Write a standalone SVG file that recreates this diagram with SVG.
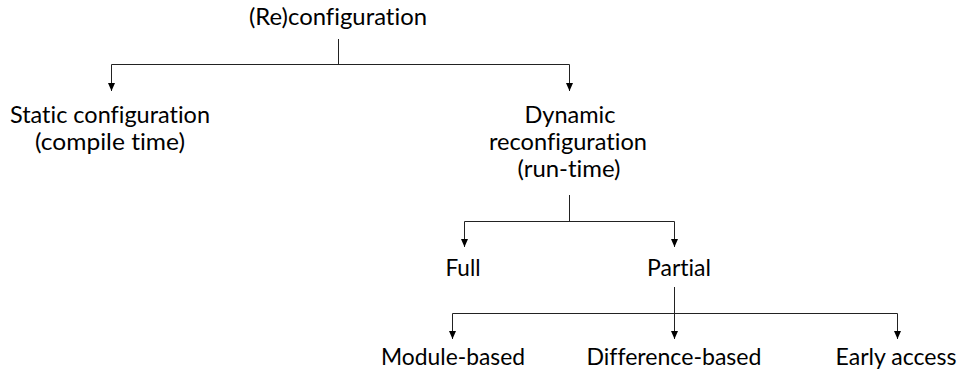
<svg xmlns="http://www.w3.org/2000/svg" width="960" height="376" viewBox="0 0 960 376">
  <style>
    .lbl { font-family: Lato, "Open Sans", "Liberation Sans", sans-serif; font-size: 22.5px; fill: #000; text-anchor: middle; font-variant-ligatures: none; font-feature-settings: "liga" 0, "clig" 0; }
    .wire { fill: none; stroke: #222; stroke-width: 1; }
  </style>
  <defs>
    <marker id="tip" viewBox="0 0 8 8" refX="8" refY="4" markerWidth="8" markerHeight="8" markerUnits="userSpaceOnUse" orient="auto">
      <path d="M0,0.5 L8,4 L0,7.5 z" fill="#000"/>
    </marker>
  </defs>
  <rect width="960" height="376" fill="#fff"/>

  <g id="connectors">
    <!-- (Re)configuration split -->
    <path class="wire" d="M338.5,39 V64.5"/>
    <path class="wire" d="M111.5,64.5 H569.5"/>
    <path class="wire" d="M111.5,64.5 V91" marker-end="url(#tip)"/>
    <path class="wire" d="M569.5,64.5 V91" marker-end="url(#tip)"/>
    <!-- Dynamic split -->
    <path class="wire" d="M569.5,195 V221.5"/>
    <path class="wire" d="M464.5,221.5 H674.5"/>
    <path class="wire" d="M464.5,221.5 V247" marker-end="url(#tip)"/>
    <path class="wire" d="M674.5,221.5 V247" marker-end="url(#tip)"/>
    <!-- Partial split -->
    <path class="wire" d="M452.5,313.5 H897.5"/>
    <path class="wire" d="M674.5,287 V339" marker-end="url(#tip)"/>
    <path class="wire" d="M452.5,313.5 V339" marker-end="url(#tip)"/>
    <path class="wire" d="M897.5,313.5 V339" marker-end="url(#tip)"/>
  </g>

  <g id="reconfiguration">
    <text class="lbl" x="338" y="25" textLength="178" lengthAdjust="spacingAndGlyphs">(Re)configuration</text>
  </g>
  <g id="static">
    <text class="lbl" x="110" y="123" textLength="200" lengthAdjust="spacingAndGlyphs">Static configuration</text>
    <text class="lbl" x="110" y="150" textLength="150" lengthAdjust="spacingAndGlyphs">(compile time)</text>
  </g>
  <g id="dynamic">
    <text class="lbl" x="570" y="123" textLength="91" lengthAdjust="spacingAndGlyphs">Dynamic</text>
    <text class="lbl" x="568" y="150" textLength="158" lengthAdjust="spacingAndGlyphs">reconfiguration</text>
    <text class="lbl" x="569" y="177" textLength="103" lengthAdjust="spacingAndGlyphs">(run-time)</text>
  </g>
  <g id="full">
    <text class="lbl" x="463" y="276" textLength="35" lengthAdjust="spacingAndGlyphs">Full</text>
  </g>
  <g id="partial">
    <text class="lbl" x="679" y="276" textLength="64" lengthAdjust="spacingAndGlyphs">Partial</text>
  </g>
  <g id="module-based">
    <text class="lbl" x="453" y="365" textLength="144" lengthAdjust="spacingAndGlyphs">Module-based</text>
  </g>
  <g id="difference-based">
    <text class="lbl" x="674" y="365" textLength="175" lengthAdjust="spacingAndGlyphs">Difference-based</text>
  </g>
  <g id="early-access">
    <text class="lbl" x="896" y="365" textLength="121" lengthAdjust="spacingAndGlyphs">Early access</text>
  </g>
</svg>
